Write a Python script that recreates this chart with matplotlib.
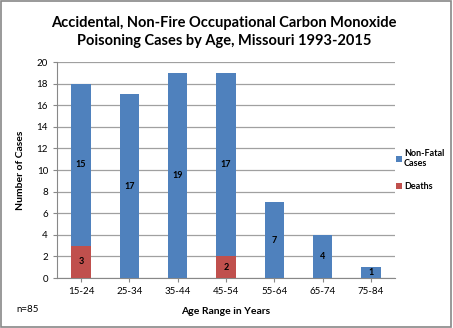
import numpy as np
import matplotlib.pyplot as plt

ages = ["15-24", "25-34", "35-44", "45-54", "55-64", "65-74", "75-84"]
deaths = [3, 0, 0, 2, 0, 0, 0]
non_fatal = [15, 17, 19, 17, 7, 4, 1]

plt.rcParams['font.family'] = ['Lato', 'DejaVu Sans']

fig = plt.figure(figsize=(4.53, 3.28), dpi=100)
ax = fig.add_axes([57 / 453, 1 - 278 / 328, 338 / 453, 216 / 328])

x = np.arange(len(ages))
w = 0.4
ax.bar(x, deaths, w, color='#C0504D', label='Deaths', zorder=3)
ax.bar(x, non_fatal, w, bottom=deaths, color='#4F81BD', label='Non-Fatal\nCases', zorder=3)

for i in range(len(ages)):
    if deaths[i] > 0:
        ax.text(x[i], deaths[i] / 2, str(deaths[i]), ha='center', va='center',
                fontsize=6.5, fontweight='bold')
    ax.text(x[i], deaths[i] + non_fatal[i] / 2, str(non_fatal[i]), ha='center',
            va='center', fontsize=6.5, fontweight='bold')

ax.set_xlim(-0.5, len(ages) - 0.5)
ax.set_ylim(0, 20)
ax.set_yticks(range(0, 21, 2))
ax.set_xticks(x)
ax.set_xticklabels(ages)
ax.tick_params(labelsize=7, length=3, color='#888888')
ax.yaxis.grid(True, color='#A0A0A0', linewidth=0.9, zorder=0)
for s in ['top', 'right']:
    ax.spines[s].set_visible(False)
ax.spines['left'].set_color('#888888')
ax.spines['bottom'].set_color('#888888')

ax.set_xlabel("Age Range in Years", fontsize=7.5, fontweight='bold', labelpad=8)
ax.set_ylabel("Number of Cases", fontsize=7.5, fontweight='bold', labelpad=8)

fig.text(0.495, 0.95, "Accidental, Non-Fire Occupational Carbon Monoxide\nPoisoning Cases by Age, Missouri 1993-2015",
         ha='center', va='top', fontsize=10.5, fontweight='bold', linespacing=1.3)
fig.text(16 / 453, 1 - 310 / 328, "n=85", fontsize=7, va='center')

handles, labels = ax.get_legend_handles_labels()
ax.legend(handles[::-1], labels[::-1], loc='center left', bbox_to_anchor=(0.985, 0.5),
          frameon=False, handlelength=0.6, handleheight=0.6, borderpad=0.2,
          handletextpad=0.25, labelspacing=1.5, prop={'weight': 'bold', 'size': 6.5})

fig.patches.append(plt.Rectangle((0.003, 0.004), 0.993, 0.992, transform=fig.transFigure,
                                 fill=False, edgecolor='#888888', linewidth=1.2))

fig.savefig("out.png", dpi=100)
